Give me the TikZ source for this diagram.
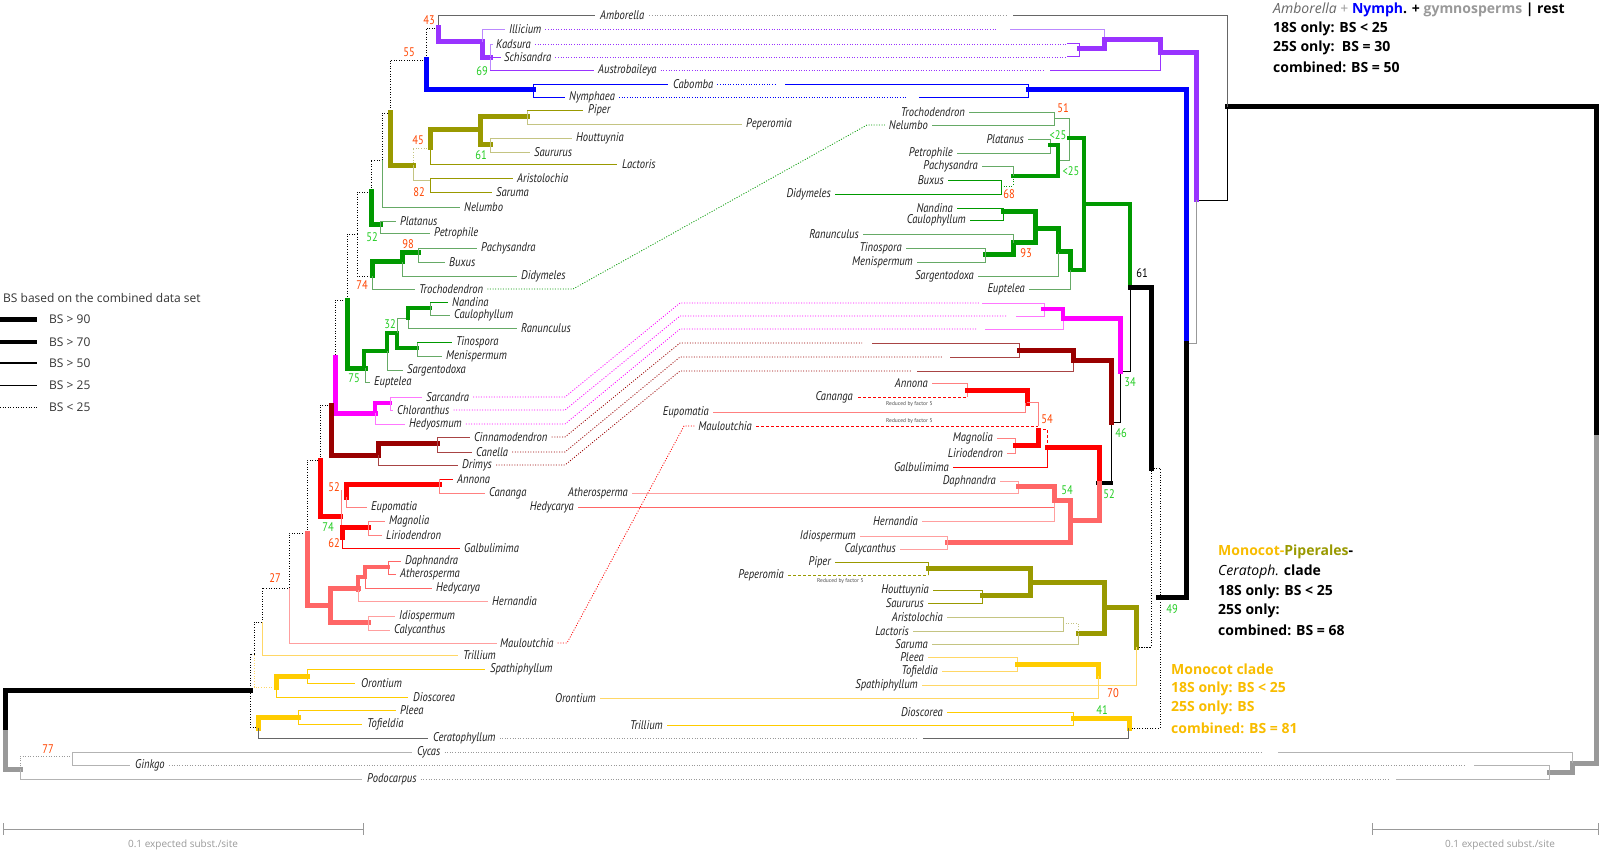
\documentclass[tikz,border=0pt]{standalone}
\usepackage{fontspec}
\setmainfont{PT Sans}
\newfontfamily\taxfont[FakeStretch=0.84]{PT Sans}
\newfontfamily\hdfont{Open Sans}

\definecolor{ambgray}{HTML}{666666}
\definecolor{gymgray}{HTML}{999999}
\definecolor{gymlight}{HTML}{B3B3B3}
\definecolor{austpurple}{HTML}{9933FF}
\definecolor{austlight}{HTML}{BB88FF}
\definecolor{nymblue}{HTML}{0000FF}
\definecolor{piperolive}{HTML}{999900}
\definecolor{piperlight}{HTML}{C4C482}
\definecolor{eudgreen}{HTML}{009900}
\definecolor{eudlight}{HTML}{66AA66}
\definecolor{chlmag}{HTML}{FF00FF}
\definecolor{chllight}{HTML}{FF77FF}
\definecolor{canred}{HTML}{990000}
\definecolor{canlight}{HTML}{A84444}
\definecolor{magred}{HTML}{FF0000}
\definecolor{maglight}{HTML}{FF8080}
\definecolor{laursal}{HTML}{FF6666}
\definecolor{laurlight}{HTML}{FF9F9F}
\definecolor{monoyel}{HTML}{FFCC00}
\definecolor{monolight}{HTML}{FFD766}
\definecolor{monotext}{HTML}{F8BC00}
\definecolor{bsred}{HTML}{FF4400}
\definecolor{bsgreen}{HTML}{22CC22}

\tikzset{
  bsA/.style={line width=0.8pt},
  bsC/.style={line width=3.6pt, line cap=rect},
  bsD/.style={line width=5pt, line cap=rect},
  bsnone/.style={line width=0.8pt, dash pattern=on 1pt off 1.6pt},
  reduced/.style={line width=0.8pt, dash pattern=on 3pt off 2pt},
  taxL/.style={anchor=west, inner sep=0pt, text=black!88, font=\taxfont\fontsize{12.6}{13}\selectfont\itshape},
  taxR/.style={taxL, anchor=east},
  bsr/.style={inner sep=0pt, text=bsred, font=\taxfont\fontsize{12.5}{13}\selectfont},
  bsg/.style={bsr, text=bsgreen},
  redu/.style={anchor=west, inner sep=0pt, text=black!70, font=\fontsize{5.5}{6}\selectfont},
  hdr/.style={anchor=west, inner sep=0pt, font=\hdfont\fontsize{14}{16}\selectfont\bfseries},
  lgd/.style={anchor=west, inner sep=0pt, text=black!80, font=\hdfont\fontsize{12}{13}\selectfont},
}

\begin{document}
\begin{tikzpicture}[x=1pt,y=-1pt]
\useasboundingbox (0,0) rectangle (1600,850);

% legend
\node[lgd] (lgtitle) at (3,298) {BS based on the combined data set};
\draw[bsD, line cap=butt] (0,319) -- (37,319);
\draw[bsC, line cap=butt] (0,342) -- (37,342);
\draw[line width=2pt] (0,363) -- (37,363);
\draw[bsA] (0,385) -- (37,385);
\draw[bsnone] (0,407) -- (37,407);
\node[lgd] (lg90) at (49,319) {BS > 90};
\node[lgd] (lg70) at (49,342) {BS > 70};
\node[lgd] (lg50) at (49,363) {BS > 50};
\node[lgd] (lg25) at (49,385) {BS > 25};
\node[lgd] (lg0) at (49,407) {BS < 25};

% left tree
\draw[bsD] (250,690) -- (5,690) -- (5,732);
\draw[bsD, gymgray] (5,732) -- (5,769) -- (20,769);
\draw[bsnone, gymgray] (20,769) -- (20,756) -- (72,756);
\draw[bsA, gymlight] (72,752) -- (72,765);
\draw[bsA, gymlight] (72,752) -- (412,752);
\draw[bsA, gymlight] (72,765) -- (130,765);
\draw[bsA, gymlight] (20,769) -- (20,779) -- (362,779);

\draw[bsnone] (438,28) -- (426,28) -- (426,60) -- (390,60) -- (390,113) -- (382,113) -- (382,160)
  -- (371,160) -- (371,192) -- (357,192) -- (357,234) -- (347,234) -- (347,300) -- (335,300) -- (335,357);
\draw[bsnone] (357,234) -- (357,276) -- (372,276);
\draw[bsnone] (331,405) -- (320,405) -- (320,460) -- (307,460) -- (307,533) -- (289,533) -- (289,588)
  -- (262,588) -- (262,622) -- (254,622) -- (254,654) -- (250,654) -- (250,727) -- (258,727);

\draw[bsA, ambgray] (438,28) -- (438,15) -- (595,15);
\draw[bsD, austpurple] (438,28) -- (438,42) -- (482,42) -- (482,58) -- (490,58);
\draw[bsA, austlight] (482,42) -- (482,29) -- (505,29);
\draw[bsA, austlight] (490,44) -- (490,70);
\draw[bsA, austlight] (490,44) -- (493,44);
\draw[bsA, austpurple] (490,57) -- (501,57);
\draw[bsA, austpurple] (490,70) -- (594,70);

\draw[bsD, nymblue] (426,60) -- (426,90) -- (533,90);
\draw[bsA, nymblue] (533,84) -- (533,97);
\draw[bsA, nymblue] (533,84) -- (668,84);
\draw[bsA, nymblue] (533,97) -- (565,97);

\draw[bsD, piperolive] (390,113) -- (390,166) -- (413,166);
\draw[bsnone, piperlight] (413,166) -- (413,148) -- (430,148);
\draw[bsD, piperolive] (430,148) -- (430,130) -- (480,130);
\draw[bsD, piperolive] (490,145) -- (480,145) -- (480,117) -- (527,117);
\draw[bsA, piperlight] (527,110) -- (527,124) -- (742,124);
\draw[bsA, piperolive] (527,110) -- (583,110);
\draw[bsA, piperlight] (490,138) -- (490,152) -- (530,152);
\draw[bsA, piperlight] (490,138) -- (572,138);
\draw[bsA, piperolive] (430,148) -- (430,164) -- (617,164);
\draw[bsA, piperlight] (413,166) -- (413,180) -- (430,180);
\draw[bsA, piperolive] (430,178) -- (430,192) -- (492,192);
\draw[bsA, piperolive] (430,178) -- (513,178);

\draw[bsA, eudlight] (382,160) -- (382,207) -- (460,207);
\draw[bsD, eudgreen] (371,192) -- (371,225) -- (380,225);
\draw[bsA, eudlight] (380,221) -- (380,233) -- (430,233);
\draw[bsA, eudlight] (380,221) -- (396,221);
\draw[bsD, eudgreen] (372,276) -- (372,262) -- (402,262) -- (402,253) -- (418,253);
\draw[bsA, eudlight] (418,248) -- (418,262) -- (445,262);
\draw[bsA, eudlight] (418,248) -- (477,248);
\draw[bsA, eudlight] (402,262) -- (402,276) -- (517,276);
\draw[bsA, eudlight] (372,276) -- (372,289) -- (415,289);

\draw[bsD, eudgreen] (347,300) -- (347,368) -- (365,368);
\draw[bsC, eudgreen] (364,368) -- (364,351) -- (387,351) -- (387,333) -- (397,333) -- (397,348) -- (417,348);
\draw[bsA, eudlight] (417,342) -- (417,356) -- (442,356);
\draw[bsA, eudgreen] (417,342) -- (452,342);
\draw[bsA, eudlight] (387,351) -- (387,370) -- (403,370);
\draw[bsA, eudlight] (365,368) -- (365,382) -- (370,382);
\draw[bsA, eudlight] (397,333) -- (397,318) -- (408,318) -- (408,328) -- (517,328);
\draw[bsC, eudgreen] (408,318) -- (408,308) -- (430,308);
\draw[bsA, eudlight] (430,302) -- (430,315) -- (450,315);
\draw[bsA, eudgreen] (430,302) -- (448,302);

\draw[bsD, chlmag] (335,357) -- (335,413) -- (375,413);
\draw[bsC, chlmag] (375,413) -- (375,403) -- (390,403);
\draw[bsA, chllight] (390,397) -- (390,410) -- (393,410);
\draw[bsA, chllight] (390,397) -- (422,397);
\draw[bsA, chllight] (375,413) -- (375,424) -- (405,424);

\draw[bsD, canred] (331,405) -- (331,455) -- (378,455);
\draw[bsD, canred] (378,455) -- (378,443) -- (437,443);
\draw[bsA, canlight] (437,437) -- (437,452) -- (472,452);
\draw[bsA, canlight] (437,437) -- (470,437);
\draw[bsA, canlight] (378,455) -- (378,465) -- (458,465);

\draw[bsD, magred] (320,460) -- (320,516) -- (340,516);
\draw[bsA, maglight] (341,490) -- (341,527);
\draw[bsD, magred] (346,497) -- (346,484) -- (439,484);
\draw[bsA, magred] (439,479) -- (453,479);
\draw[bsA, maglight] (439,479) -- (439,493) -- (485,493);
\draw[bsA, maglight] (346,497) -- (346,507) -- (367,507);
\draw[bsD, magred] (342,537) -- (342,527) -- (368,527);
\draw[bsA, maglight] (368,521) -- (368,535) -- (382,535);
\draw[bsA, maglight] (368,521) -- (385,521);
\draw[bsA, magred] (342,537) -- (342,548) -- (460,548);

\draw[bsD, laursal] (307,533) -- (307,605) -- (330,605);
\draw[bsD, laursal] (358,588) -- (330,588) -- (330,622) -- (368,622);
\draw[bsC, laursal] (358,590) -- (358,577) -- (365,577) -- (365,567) -- (388,567);
\draw[bsA, laursal] (388,561) -- (388,574) -- (396,574);
\draw[bsA, laursal] (388,561) -- (401,561);
\draw[bsA, laursal] (365,577) -- (365,588) -- (432,588);
\draw[bsA, laurlight] (358,590) -- (358,601) -- (488,601);
\draw[bsA, laurlight] (368,616) -- (368,630) -- (390,630);
\draw[bsA, laurlight] (368,616) -- (395,616);
\draw[bsA, laurlight] (289,588) -- (289,643) -- (497,643);

\draw[bsA, monolight] (262,622) -- (262,655) -- (458,655);
\draw[bsnone, monolight] (254,655) -- (254,687) -- (275,687);
\draw[bsD, monoyel] (276,687) -- (276,676) -- (307,676);
\draw[bsA, monoyel] (307,669) -- (307,683) -- (355,683);
\draw[bsA, monoyel] (307,669) -- (485,669);
\draw[bsA, monoyel] (276,687) -- (276,697) -- (408,697);
\draw[bsD, monoyel] (258,728) -- (258,717) -- (298,717);
\draw[bsA, monoyel] (298,710) -- (298,724) -- (362,724);
\draw[bsA, monoyel] (298,710) -- (396,710);
\draw[bsA, ambgray] (258,728) -- (258,738) -- (428,738);

\node[taxL] (lAmb) at (600,15) {Amborella};
\node[taxL] (lIll) at (509,29) {Illicium};
\node[taxL] (lKad) at (496,44) {Kadsura};
\node[taxL] (lSch) at (504,57) {Schisandra};
\node[taxL] (lAus) at (598,70) {Austrobaileya};
\node[taxL] (lCab) at (673,84) {Cabomba};
\node[taxL] (lNym) at (569,97) {Nymphaea};
\node[taxL] (lPip) at (588,110) {Piper};
\node[taxL] (lPep) at (746,124) {Peperomia};
\node[taxL] (lHou) at (576,138) {Houttuynia};
\node[taxL] (lSau) at (534,152) {Saururus};
\node[taxL] (lLac) at (622,164) {Lactoris};
\node[taxL] (lAri) at (517,178) {Aristolochia};
\node[taxL] (lSar) at (496,192) {Saruma};
\node[taxL] (lNel) at (464,207) {Nelumbo};
\node[taxL] (lPla) at (400,221) {Platanus};
\node[taxL] (lPet) at (434,233) {Petrophile};
\node[taxL] (lPac) at (481,248) {Pachysandra};
\node[taxL] (lBux) at (449,262) {Buxus};
\node[taxL] (lDid) at (521,276) {Didymeles};
\node[taxL] (lTro) at (419,289) {Trochodendron};
\node[taxL] (lNan) at (452,302) {Nandina};
\node[taxL] (lCau) at (454,315) {Caulophyllum};
\node[taxL] (lRan) at (521,328) {Ranunculus};
\node[taxL] (lTin) at (456,342) {Tinospora};
\node[taxL] (lMen) at (446,356) {Menispermum};
\node[taxL] (lSarg) at (407,370) {Sargentodoxa};
\node[taxL] (lEup) at (374,382) {Euptelea};
\node[taxL] (lSarc) at (426,397) {Sarcandra};
\node[taxL] (lChl) at (397,410) {Chloranthus};
\node[taxL] (lHed) at (409,424) {Hedyosmum};
\node[taxL] (lCin) at (474,437) {Cinnamodendron};
\node[taxL] (lCan) at (476,452) {Canella};
\node[taxL] (lDri) at (462,465) {Drimys};
\node[taxL] (lAnn) at (457,479) {Annona};
\node[taxL] (lCana) at (489,493) {Cananga};
\node[taxL] (lEupo) at (371,507) {Eupomatia};
\node[taxL] (lMag) at (389,521) {Magnolia};
\node[taxL] (lLir) at (386,535) {Liriodendron};
\node[taxL] (lGal) at (464,548) {Galbulimima};
\node[taxL] (lDap) at (405,561) {Daphnandra};
\node[taxL] (lAth) at (400,574) {Atherosperma};
\node[taxL] (lHedy) at (436,588) {Hedycarya};
\node[taxL] (lHer) at (492,601) {Hernandia};
\node[taxL] (lIdi) at (399,616) {Idiospermum};
\node[taxL] (lCal) at (394,630) {Calycanthus};
\node[taxL] (lMau) at (500,643) {Mauloutchia};
\node[taxL] (lTri) at (463,655) {Trillium};
\node[taxL] (lSpa) at (490,669) {Spathiphyllum};
\node[taxL] (lOro) at (361,683) {Orontium};
\node[taxL] (lDio) at (413,697) {Dioscorea};
\node[taxL] (lPle) at (400,710) {Pleea};
\node[taxL] (lTof) at (367,724) {Tofieldia};
\node[taxL] (lCer) at (433,738) {Ceratophyllum};
\node[taxL] (lCyc) at (417,752) {Cycas};
\node[taxL] (lGin) at (135,765) {Ginkgo};
\node[taxL] (lPod) at (367,779) {Podocarpus};

\node[bsr] (nL43) at (429,20) {43};
\node[bsg] (nL69) at (482,71) {69};
\node[bsr] (nL55) at (409,52) {55};
\node[bsr] (nL45) at (418,140) {45};
\node[bsg] (nL61) at (481,155) {61};
\node[bsr] (nL82) at (419,192) {82};
\node[bsg] (nL52a) at (372,237) {52};
\node[bsr] (nL98) at (408,244) {98};
\node[bsr] (nL74a) at (362,285) {74};
\node[bsg] (nL32) at (390,324) {32};
\node[bsg] (nL75) at (354,378) {75};
\node[bsr] (nL52b) at (334,487) {52};
\node[bsg] (nL74b) at (328,527) {74};
\node[bsr] (nL62) at (334,543) {62};
\node[bsr] (nL27) at (275,578) {27};
\node[bsr] (nL77) at (48,749) {77};

% right tree
\draw[bsD] (1227,107) -- (1596,107) -- (1596,437);
\draw[bsD, gymgray] (1596,437) -- (1596,763) -- (1572,763) -- (1572,772) -- (1549,772);
\draw[bsA, gymlight] (1278,752) -- (1572,752) -- (1572,763);
\draw[bsA, gymlight] (1474,765) -- (1549,765) -- (1549,779) -- (1396,779);
\draw[bsA, ambgray] (1013,15) -- (1227,15) -- (1227,107);
\draw[bsA] (1227,107) -- (1227,200) -- (1196,200);

\draw[bsA, austlight] (1010,29) -- (1104,29) -- (1104,40);
\draw[bsA, austpurple] (1067,43) -- (1079,43) -- (1079,56) -- (1067,56);
\draw[bsD, austpurple] (1079,49) -- (1104,49) -- (1104,40) -- (1160,40) -- (1160,53) -- (1196,53) -- (1196,200);
\draw[bsA, austpurple] (1050,70) -- (1160,70) -- (1160,53);
\draw[bsA, nymblue] (785,84) -- (1028,84) -- (1028,97) -- (919,97);
\draw[bsD, nymblue] (1028,90) -- (1186,90) -- (1186,343);
\draw[bsA, gymgray] (1196,200) -- (1196,343) -- (1186,343);
\draw[bsD] (1186,343) -- (1186,597) -- (1158,597);

\draw[bsA, eudlight] (969,112) -- (1054,112) -- (1054,125) -- (932,125);
\draw[bsA, eudlight] (1054,118) -- (1069,118) -- (1069,160) -- (1058,160);
\draw[bsA, eudlight] (1028,139) -- (1050,139) -- (1050,153) -- (957,153);
\draw[bsC, eudgreen] (1050,145) -- (1058,145) -- (1058,176) -- (1013,176);
\draw[bsA, eudlight] (982,166) -- (1013,166) -- (1013,176);
\draw[bsA, eudgreen] (948,180) -- (1001,180) -- (1001,194) -- (835,194);
\draw[bsnone, eudgreen] (1001,186) -- (1013,186) -- (1013,176);
\draw[bsC, eudgreen] (1069,138) -- (1084,138) -- (1084,270) -- (1070,270);
\draw[bsC, eudgreen] (1084,204) -- (1130,204) -- (1130,287);
\draw[bsA, eudgreen] (957,208) -- (1003,208) -- (1003,220) -- (970,220);
\draw[bsD, eudgreen] (1003,212) -- (1035,212) -- (1035,243) -- (1013,243) -- (1013,255) -- (985,255);
\draw[bsD, eudgreen] (1035,229) -- (1058,229) -- (1058,252) -- (1070,252) -- (1070,270);
\draw[bsA, eudlight] (863,234) -- (1013,234) -- (1013,243);
\draw[bsA, eudlight] (906,248) -- (985,248) -- (985,262) -- (917,262);
\draw[bsA, eudlight] (978,276) -- (1058,276) -- (1058,252);
\draw[bsA, eudlight] (1029,289) -- (1070,289) -- (1070,270);

\draw[bsD] (1130,287) -- (1151,287) -- (1151,468);
\draw[bsnone] (1151,468) -- (1151,647) -- (1136,647);
\draw[bsnone] (1151,468) -- (1160,468) -- (1160,728) -- (1129,728);
\draw[bsA] (1120,371) -- (1130,371) -- (1130,287);
\draw[bsA] (1120,371) -- (1120,422) -- (1111,422) -- (1111,483);
\draw[bsC] (1098,483) -- (1111,483);

\draw[bsA, chllight] (982,303) -- (1044,303) -- (1044,316) -- (1016,316);
\draw[bsA, chllight] (985,329) -- (1063,329) -- (1063,318);
\draw[bsC, chlmag] (1043,309) -- (1063,309) -- (1063,318);
\draw[bsD, chlmag] (1063,318) -- (1120,318) -- (1120,371);

\draw[bsA, canlight] (872,343) -- (1019,343) -- (1019,357) -- (950,357);
\draw[bsA, canlight] (917,371) -- (1073,371) -- (1073,360);
\draw[bsD, canred] (1019,350) -- (1073,350) -- (1073,360) -- (1111,360) -- (1111,422);

\draw[bsA, maglight] (932,383) -- (967,383) -- (967,397);
\draw[reduced, magred] (858,397) -- (967,397);
\draw[bsD, magred] (967,390) -- (1027,390) -- (1027,403);
\draw[bsA, maglight] (713,412) -- (1025,412) -- (1025,403);
\draw[bsA, maglight] (1027,402) -- (1038,402) -- (1038,426);
\draw[reduced, magred] (756,426) -- (1038,426);
\draw[reduced, magred] (1038,429) -- (1047,429) -- (1047,447);
\draw[bsA, maglight] (997,438) -- (1015,438) -- (1015,453) -- (1007,453);
\draw[bsD, magred] (1015,445) -- (1038,445) -- (1038,430);
\draw[bsD, magred] (1047,447) -- (1099,447) -- (1099,483);
\draw[bsA, magred] (953,467) -- (1047,467) -- (1047,447);

\draw[bsA, laurlight] (1000,481) -- (1018,481) -- (1018,493) -- (632,493);
\draw[bsA, laursal] (578,507) -- (1054,507);
\draw[bsA, laurlight] (1054,500) -- (1054,521) -- (922,521);
\draw[bsD, laursal] (1018,486) -- (1054,486) -- (1054,500) -- (1070,500) -- (1070,542) -- (947,542);
\draw[bsD, laursal] (1070,520) -- (1099,520) -- (1099,483);
\draw[bsA, laurlight] (860,536) -- (947,536) -- (947,549) -- (900,549);

\draw[bsA, piperolive] (835,562) -- (928,562) -- (928,575);
\draw[reduced, piperolive] (788,575) -- (928,575);
\draw[bsD, piperolive] (928,568) -- (1030,568) -- (1030,595) -- (982,595);
\draw[bsD, piperolive] (1030,582) -- (1104,582) -- (1104,633) -- (1078,633);
\draw[bsD, piperolive] (1104,607) -- (1136,607) -- (1136,647);
\draw[bsA, piperolive] (933,590) -- (982,590) -- (982,603) -- (928,603);
\draw[bsA, piperlight] (947,617) -- (1063,617) -- (1063,631) -- (913,631);
\draw[bsnone, piperlight] (1063,623) -- (1078,623) -- (1078,633);
\draw[bsA, piperlight] (932,644) -- (1078,644) -- (1078,633);
\draw[bsnone] (1136,647) -- (1151,647);

\draw[bsA, monolight] (928,657) -- (1017,657) -- (1017,671) -- (942,671);
\draw[bsD, monoyel] (1017,664) -- (1098,664) -- (1098,676);
\draw[bsA, monolight] (1098,676) -- (1098,698) -- (600,698);
\draw[bsA, monolight] (922,685) -- (1136,685) -- (1136,647);
\draw[bsA, monoyel] (947,712) -- (1073,712) -- (1073,725) -- (667,725);
\draw[bsD, monoyel] (1073,718) -- (1129,718) -- (1129,728);
\draw[bsA, ambgray] (923,738) -- (1128,738) -- (1128,728);

\node[taxR] (rTro) at (965,112) {Trochodendron};
\node[taxR] (rNel) at (928,125) {Nelumbo};
\node[taxR] (rPla) at (1024,139) {Platanus};
\node[taxR] (rPet) at (953,153) {Petrophile};
\node[taxR] (rPac) at (978,166) {Pachysandra};
\node[taxR] (rBux) at (944,180) {Buxus};
\node[taxR] (rDid) at (831,194) {Didymeles};
\node[taxR] (rNan) at (953,208) {Nandina};
\node[taxR] (rCau) at (966,220) {Caulophyllum};
\node[taxR] (rRan) at (859,234) {Ranunculus};
\node[taxR] (rTin) at (902,248) {Tinospora};
\node[taxR] (rMen) at (913,262) {Menispermum};
\node[taxR] (rSarg) at (974,276) {Sargentodoxa};
\node[taxR] (rEup) at (1025,289) {Euptelea};
\node[taxR] (rAnn) at (928,383) {Annona};
\node[taxR] (rCana) at (853,397) {Cananga};
\node[taxR] (rEupo) at (709,412) {Eupomatia};
\node[taxR] (rMau) at (752,426) {Mauloutchia};
\node[taxR] (rMag) at (993,438) {Magnolia};
\node[taxR] (rLir) at (1003,453) {Liriodendron};
\node[taxR] (rGal) at (949,467) {Galbulimima};
\node[taxR] (rDap) at (996,481) {Daphnandra};
\node[taxR] (rAth) at (628,493) {Atherosperma};
\node[taxR] (rHedy) at (574,507) {Hedycarya};
\node[taxR] (rHer) at (918,521) {Hernandia};
\node[taxR] (rIdi) at (856,536) {Idiospermum};
\node[taxR] (rCal) at (896,549) {Calycanthus};
\node[taxR] (rPip) at (831,562) {Piper};
\node[taxR] (rPep) at (784,575) {Peperomia};
\node[taxR] (rHou) at (929,590) {Houttuynia};
\node[taxR] (rSau) at (924,603) {Saururus};
\node[taxR] (rAri) at (943,617) {Aristolochia};
\node[taxR] (rLac) at (909,631) {Lactoris};
\node[taxR] (rSar) at (928,644) {Saruma};
\node[taxR] (rPle) at (924,657) {Pleea};
\node[taxR] (rTof) at (938,671) {Tofieldia};
\node[taxR] (rSpa) at (918,685) {Spathiphyllum};
\node[taxR] (rOro) at (596,698) {Orontium};
\node[taxR] (rDio) at (943,712) {Dioscorea};
\node[taxR] (rTri) at (663,725) {Trillium};

\node[redu] (rf1) at (886,404) {Reduced by factor 5};
\node[redu] (rf2) at (886,421) {Reduced by factor 5};
\node[redu] (rf3) at (817,581) {Reduced by factor 5};

\node[bsr] (nR51) at (1063,108) {51};
\node[bsg] (nR25a) at (1058,135) {<25};
\node[bsg] (nR25b) at (1071,171) {<25};
\node[bsr] (nR68) at (1009,194) {68};
\node[bsr] (nR93) at (1026,253) {93};
\node[bsr, text=black] (nR61) at (1142,273) {61};
\node[bsg] (nR34) at (1130,382) {34};
\node[bsr] (nR54a) at (1047,419) {54};
\node[bsg] (nR46) at (1121,433) {46};
\node[bsg] (nR54b) at (1067,490) {54};
\node[bsg] (nR52) at (1109,494) {52};
\node[bsg] (nR49) at (1172,609) {49};
\node[bsr] (nR70) at (1113,693) {70};
\node[bsg] (nR41) at (1102,710) {41};

% links between the trees
\draw[bsnone, gymgray] ([xshift=5pt]lAmb.east) -- (1007,15);
\draw[bsnone, austpurple] ([xshift=4pt]lIll.east) -- (997,29);
\draw[bsnone, austpurple] ([xshift=4pt]lKad.east) -- (1067,44);
\draw[bsnone, austpurple] ([xshift=4pt]lSch.east) -- (1067,57);
\draw[bsnone, austpurple] ([xshift=4pt]lAus.east) -- (1045,70);
\draw[bsnone, nymblue] ([xshift=4pt]lCab.east) -- (777,84);
\draw[bsnone, nymblue] ([xshift=4pt]lNym.east) -- (907,97);
\draw[bsnone, eudgreen] ([xshift=4pt]lTro.east) -- (573,289) -- (867,125) -- ([xshift=-4pt]rNel.west);
\draw[bsnone, chlmag] ([xshift=4pt]lSarc.east) -- (565,397) -- (680,303) -- (980,303);
\draw[bsnone, chlmag] ([xshift=4pt]lChl.east) -- (565,410) -- (680,316) -- (1007,316);
\draw[bsnone, chlmag] ([xshift=4pt]lHed.east) -- (565,424) -- (680,329) -- (977,329);
\draw[bsnone, canred] ([xshift=4pt]lCin.east) -- (565,437) -- (680,343) -- (862,343);
\draw[bsnone, canred] ([xshift=4pt]lCan.east) -- (565,452) -- (680,357) -- (942,357);
\draw[bsnone, canred] ([xshift=4pt]lDri.east) -- (565,465) -- (680,371) -- (912,371);
\draw[bsnone, magred] ([xshift=4pt]lMau.east) -- (567,643) -- (684,426) -- ([xshift=-4pt]rMau.west);
\draw[bsnone, gymgray] ([xshift=4pt]lCer.east) -- (918,738);
\draw[bsnone, gymgray] ([xshift=4pt]lCyc.east) -- (1261,752);
\draw[bsnone, gymgray] ([xshift=4pt]lGin.east) -- (1466,765);
\draw[bsnone, gymgray] ([xshift=4pt]lPod.east) -- (1389,779);

% clade notes
\node[hdr] (hd1) at (1273,10) {\textcolor{ambgray}{\mdseries\itshape Amborella} \textcolor{gymgray}{\mdseries +} \textcolor{nymblue}{Nymph}. + \textcolor{gymgray}{gymnosperms} | rest};
\node[hdr] (hd2) at (1273,29) {18S only: BS < 25};
\node[hdr] (hd3) at (1273,48) {25S only:\ \ BS = 30};
\node[hdr] (hd4) at (1273,67) {combined: BS = 50};
\node[hdr] (mp1) at (1218,552) {\textcolor{monotext}{Monocot-}\textcolor{piperolive}{Piperales}-};
\node[hdr] (mp2) at (1218,572) {{\mdseries\itshape Ceratoph.} clade};
\node[hdr] (mp3) at (1218,592) {18S only: BS < 25};
\node[hdr] (mp4) at (1218,611) {25S only:};
\node[hdr] (mp5) at (1218,630) {combined: BS = 68};
\node[hdr, text=monotext] (mc1) at (1171,669) {Monocot clade};
\node[hdr, text=monotext] (mc2) at (1171,689) {18S only: BS < 25};
\node[hdr, text=monotext] (mc3) at (1171,708) {25S only: BS};
\node[hdr, text=monotext] (mc4) at (1171,728) {combined: BS = 81};

% scale bars
\draw[gymgray, line width=1pt] (3,823) -- (3,835) (3,829) -- (363,829) (363,823) -- (363,835);
\draw[gymgray, line width=1pt] (1372,823) -- (1372,835) (1372,829) -- (1598,829) (1598,823) -- (1598,835);
\node[lgd, anchor=center, text=gymgray, font=\hdfont\fontsize{10}{12}\selectfont] (sbL) at (183,845) {0.1 expected subst./site};
\node[lgd, anchor=center, text=gymgray, font=\hdfont\fontsize{10}{12}\selectfont] (sbR) at (1500,845) {0.1 expected subst./site};
\end{tikzpicture}
\end{document}
